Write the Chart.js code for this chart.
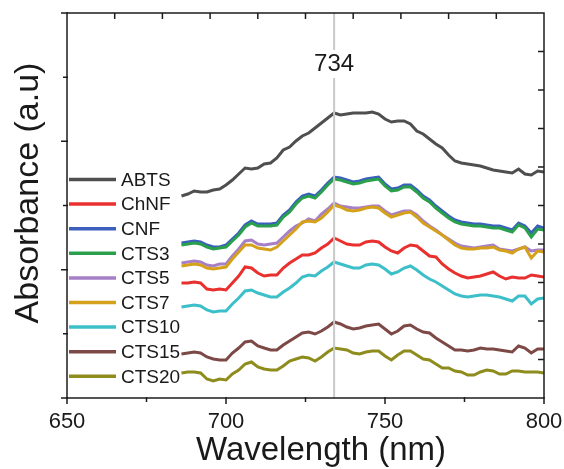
<!DOCTYPE html>
<html>
<head>
<meta charset="utf-8">
<script src="https://cdn.jsdelivr.net/npm/chart.js@4.4.1/dist/chart.umd.min.js"></script>
<style>
    html, body { margin: 0; padding: 0; background: #fff; }
    canvas { display: block; }
</style>
</head>
<body>
<canvas id="myChart" width="564" height="469"></canvas>
<script>
const wavelengths = [
    686, 688, 690, 692, 694, 696, 698, 700, 702, 704,
    706, 708, 710, 712, 714, 716, 718, 720, 722, 724,
    726, 728, 730, 732, 734, 736, 738, 740, 742, 744,
    746, 748, 750, 752, 754, 756, 758, 760, 762, 764,
    766, 768, 770, 772, 774, 776, 778, 780, 782, 784,
    786, 788, 790, 792, 794, 796, 798, 800
];

const ABTS = [2.02, 2.04, 2.07, 2.06, 2.06, 2.08, 2.09, 2.13, 2.18, 2.24, 2.30, 2.29, 2.30, 2.34, 2.35, 2.40, 2.48, 2.51, 2.57, 2.62, 2.65, 2.70, 2.75, 2.80, 2.85, 2.83, 2.84, 2.85, 2.85, 2.85, 2.86, 2.84, 2.79, 2.76, 2.77, 2.77, 2.74, 2.67, 2.64, 2.59, 2.54, 2.50, 2.43, 2.37, 2.35, 2.34, 2.33, 2.32, 2.30, 2.28, 2.27, 2.26, 2.25, 2.29, 2.24, 2.23, 2.27, 2.26];
const ChNF = [1.15, 1.15, 1.16, 1.15, 1.09, 1.08, 1.09, 1.08, 1.15, 1.22, 1.31, 1.30, 1.25, 1.22, 1.23, 1.23, 1.30, 1.35, 1.39, 1.43, 1.43, 1.45, 1.50, 1.54, 1.60, 1.57, 1.54, 1.53, 1.53, 1.56, 1.57, 1.56, 1.51, 1.47, 1.45, 1.50, 1.53, 1.52, 1.47, 1.42, 1.41, 1.34, 1.29, 1.25, 1.22, 1.20, 1.21, 1.22, 1.24, 1.26, 1.22, 1.19, 1.21, 1.20, 1.20, 1.23, 1.22, 1.21];
const CNF = [1.55, 1.56, 1.57, 1.56, 1.53, 1.51, 1.51, 1.53, 1.59, 1.65, 1.73, 1.77, 1.74, 1.74, 1.74, 1.75, 1.83, 1.88, 1.96, 2.02, 2.04, 2.02, 2.08, 2.15, 2.21, 2.20, 2.18, 2.16, 2.17, 2.19, 2.20, 2.21, 2.14, 2.09, 2.10, 2.13, 2.13, 2.08, 2.02, 1.98, 1.92, 1.87, 1.82, 1.78, 1.76, 1.75, 1.74, 1.74, 1.73, 1.72, 1.72, 1.70, 1.68, 1.75, 1.72, 1.65, 1.72, 1.70];
const CTS3 = [1.53, 1.54, 1.55, 1.54, 1.51, 1.49, 1.50, 1.51, 1.57, 1.63, 1.71, 1.75, 1.72, 1.72, 1.72, 1.73, 1.81, 1.86, 1.94, 2.00, 2.02, 2.00, 2.06, 2.13, 2.19, 2.18, 2.16, 2.14, 2.15, 2.17, 2.18, 2.19, 2.12, 2.07, 2.08, 2.11, 2.11, 2.06, 2.00, 1.96, 1.90, 1.85, 1.80, 1.76, 1.74, 1.73, 1.72, 1.72, 1.71, 1.70, 1.70, 1.68, 1.66, 1.73, 1.70, 1.61, 1.69, 1.68];
const CTS5 = [1.35, 1.36, 1.37, 1.36, 1.33, 1.32, 1.34, 1.34, 1.42, 1.49, 1.57, 1.58, 1.54, 1.53, 1.54, 1.55, 1.61, 1.67, 1.72, 1.75, 1.79, 1.77, 1.84, 1.89, 1.95, 1.92, 1.91, 1.90, 1.90, 1.91, 1.92, 1.92, 1.87, 1.83, 1.85, 1.87, 1.87, 1.83, 1.77, 1.72, 1.68, 1.63, 1.59, 1.55, 1.52, 1.51, 1.50, 1.51, 1.52, 1.53, 1.49, 1.48, 1.47, 1.49, 1.51, 1.47, 1.48, 1.48];
const CTS7 = [1.32, 1.33, 1.34, 1.33, 1.30, 1.29, 1.30, 1.31, 1.39, 1.46, 1.53, 1.53, 1.50, 1.49, 1.48, 1.51, 1.57, 1.63, 1.69, 1.76, 1.77, 1.76, 1.80, 1.86, 1.93, 1.91, 1.88, 1.87, 1.88, 1.90, 1.91, 1.90, 1.85, 1.81, 1.83, 1.85, 1.86, 1.81, 1.75, 1.71, 1.67, 1.63, 1.58, 1.53, 1.50, 1.49, 1.49, 1.50, 1.50, 1.51, 1.48, 1.47, 1.45, 1.49, 1.51, 1.40, 1.47, 1.46];
const CTS10 = [0.91, 0.92, 0.93, 0.92, 0.88, 0.86, 0.87, 0.87, 0.94, 1.00, 1.07, 1.08, 1.05, 1.03, 1.01, 1.01, 1.06, 1.10, 1.15, 1.21, 1.23, 1.22, 1.27, 1.31, 1.36, 1.34, 1.32, 1.30, 1.30, 1.33, 1.34, 1.33, 1.29, 1.24, 1.26, 1.30, 1.32, 1.28, 1.23, 1.19, 1.16, 1.12, 1.08, 1.04, 1.02, 1.01, 1.02, 1.03, 1.03, 1.02, 1.01, 0.99, 0.97, 1.02, 1.02, 0.94, 0.99, 1.00];
const CTS15 = [0.44, 0.45, 0.46, 0.45, 0.41, 0.39, 0.38, 0.38, 0.45, 0.50, 0.56, 0.57, 0.52, 0.50, 0.48, 0.48, 0.53, 0.57, 0.61, 0.65, 0.66, 0.64, 0.67, 0.71, 0.76, 0.74, 0.71, 0.69, 0.70, 0.72, 0.73, 0.74, 0.69, 0.64, 0.67, 0.72, 0.73, 0.69, 0.66, 0.65, 0.60, 0.56, 0.52, 0.48, 0.48, 0.47, 0.48, 0.50, 0.49, 0.49, 0.48, 0.47, 0.46, 0.52, 0.50, 0.45, 0.49, 0.49];
const CTS20 = [0.25, 0.26, 0.26, 0.25, 0.19, 0.17, 0.19, 0.18, 0.24, 0.28, 0.34, 0.36, 0.31, 0.29, 0.28, 0.28, 0.32, 0.37, 0.39, 0.41, 0.40, 0.37, 0.41, 0.46, 0.50, 0.49, 0.48, 0.45, 0.44, 0.46, 0.47, 0.47, 0.42, 0.38, 0.43, 0.47, 0.47, 0.43, 0.39, 0.38, 0.34, 0.30, 0.30, 0.27, 0.26, 0.23, 0.23, 0.26, 0.28, 0.27, 0.24, 0.24, 0.27, 0.27, 0.26, 0.26, 0.26, 0.25];

const seriesNames = ['ABTS', 'ChNF', 'CNF', 'CTS3', 'CTS5', 'CTS7', 'CTS10', 'CTS15', 'CTS20'];
const seriesColors = ['#4f4f4f', '#e8302e', '#3a5fbd', '#2a9f4c', '#a67fc6', '#d6a11a', '#3dbfc9', '#7d4946', '#8e8c1c'];
const peakWavelength = 734;

const xMin = 650, xMax = 800, yMin = 0, yMax = 3.85;
const FONT = "'Liberation Sans', Arial, sans-serif";

const allSeries = [ABTS, ChNF, CNF, CTS3, CTS5, CTS7, CTS10, CTS15, CTS20];

const datasets = allSeries.map(function(values, i) {
    return {
        label: seriesNames[i],
        data: values.map(function(v, j) { return { x: wavelengths[j], y: v }; }),
        borderColor: seriesColors[i],
        borderWidth: 3,
        pointRadius: 0,
        tension: 0,
        fill: false,
        order: allSeries.length - i + 1 // later spectra sit on top
    };
});

// grey marker through the peak
datasets.push({
    label: 'peak',
    data: [{ x: peakWavelength, y: yMin }, { x: peakWavelength, y: yMax }],
    borderColor: '#c9c9c9',
    borderWidth: 2,
    pointRadius: 0,
    order: 0
});

// box, tick marks, legend, peak label and axis titles
const decorations = {
    id: 'decorations',
    afterDatasetsDraw(chart) {
        const ctx = chart.ctx;
        const a = chart.chartArea;
        const x = chart.scales.x;
        const y = chart.scales.y;
        ctx.save();

        ctx.strokeStyle = '#1c1c1c';
        ctx.lineWidth = 1.5;
        ctx.strokeRect(a.left, a.top, a.right - a.left, a.bottom - a.top);

        ctx.beginPath();
        // bottom: majors at the labels, minors in between
        for (let v = xMin; v <= xMax; v += 25) {
            const px = x.getPixelForValue(v);
            const len = (v - xMin) % 50 === 0 ? 6 : 4;
            ctx.moveTo(px, a.bottom - 1);
            ctx.lineTo(px, a.bottom + len);
        }
        // left: three majors, minors half way
        for (let k = 0; k <= 6; k++) {
            const py = y.getPixelForValue(yMin + (yMax - yMin) * k / 6);
            const len = k % 2 === 0 ? 6 : 4;
            ctx.moveTo(a.left + 1, py);
            ctx.lineTo(a.left - len, py);
        }
        // top and right: inward ticks, ten divisions
        for (let k = 1; k < 10; k++) {
            const px = x.getPixelForValue(xMin + (xMax - xMin) * k / 10);
            ctx.moveTo(px, a.top);
            ctx.lineTo(px, a.top + 6);
            const py = y.getPixelForValue(yMin + (yMax - yMin) * k / 10);
            ctx.moveTo(a.right, py);
            ctx.lineTo(a.right - 6, py);
        }
        ctx.stroke();

        // peak label on a white patch
        const px = x.getPixelForValue(peakWavelength);
        ctx.font = '24px ' + FONT;
        ctx.textAlign = 'center';
        ctx.textBaseline = 'middle';
        const w = ctx.measureText(String(peakWavelength)).width;
        ctx.fillStyle = '#fff';
        ctx.fillRect(px - w / 2 - 2, 50, w + 4, 28);
        ctx.fillStyle = '#1a1a1a';
        ctx.fillText(String(peakWavelength), px, 64);

        // legend inside the plot
        ctx.font = '19px ' + FONT;
        ctx.textAlign = 'left';
        ctx.lineWidth = 3.5;
        seriesNames.forEach(function(name, i) {
            const ly = 179.5 + i * 24.6;
            ctx.strokeStyle = seriesColors[i];
            ctx.beginPath();
            ctx.moveTo(69, ly);
            ctx.lineTo(116, ly);
            ctx.stroke();
            ctx.fillStyle = '#1a1a1a';
            ctx.fillText(name, 121, ly + 1);
        });

        // axis titles
        ctx.fillStyle = '#1a1a1a';
        ctx.textAlign = 'center';
        ctx.textBaseline = 'alphabetic';
        ctx.font = '33px ' + FONT;
        ctx.fillText('Wavelength (nm)', 321, 460);
        ctx.translate(38, 193);
        ctx.rotate(-Math.PI / 2);
        ctx.font = '34px ' + FONT;
        ctx.fillText('Absorbance (a.u)', 0, 0);

        ctx.restore();
    }
};

const config = {
    type: 'line',
    data: { datasets: datasets },
    options: {
        responsive: false,
        animation: false,
        devicePixelRatio: 1,
        layout: { padding: { top: 13, right: 20, left: 0, bottom: 0 } },
        plugins: {
            legend: { display: false },
            tooltip: { enabled: false }
        },
        scales: {
            x: {
                type: 'linear',
                min: xMin,
                max: xMax,
                grid: { display: false, drawTicks: false },
                border: { display: false },
                ticks: {
                    stepSize: 50,
                    padding: 11,
                    color: '#1a1a1a',
                    font: { family: FONT, size: 22 }
                },
                afterFit: function(scale) {
                    scale.height = 71;
                    // the end labels may overhang the plot box
                    scale.paddingLeft = 0;
                    scale.paddingRight = 0;
                }
            },
            y: {
                min: yMin,
                max: yMax,
                grid: { display: false, drawTicks: false },
                border: { display: false },
                ticks: { display: false },
                afterFit: function(scale) { scale.width = 67; }
            }
        }
    },
    plugins: [decorations]
};

const myChart = new Chart(document.getElementById('myChart'), config);
</script>
</body>
</html>
